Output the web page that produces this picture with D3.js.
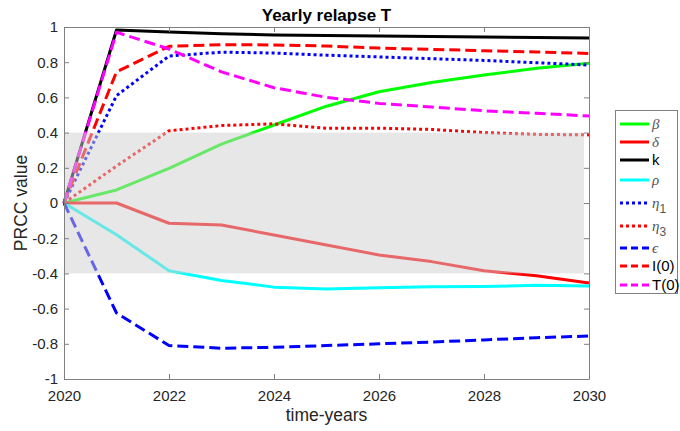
<!DOCTYPE html>
<html><head><meta charset="utf-8">
<script src="https://cdn.jsdelivr.net/npm/d3@7"></script>
<style>body{margin:0;background:#fff;font-family:"Liberation Sans",Arial,sans-serif;}</style>
</head><body><svg id="c" width="680" height="431"></svg>
<script>
const years = [2020,2021,2022,2023,2024,2025,2026,2027,2028,2029,2030];
const beta   = [0, 0.074, 0.197, 0.335, 0.443, 0.55, 0.632, 0.685, 0.727, 0.765, 0.794];
const delta  = [0, 0, -0.115, -0.125, -0.182, -0.239, -0.295, -0.333, -0.385, -0.413, -0.455];
const kVals  = [0, 0.983, 0.972, 0.962, 0.955, 0.952, 0.949, 0.946, 0.943, 0.94, 0.938];
const rho    = [0, -0.18, -0.385, -0.44, -0.478, -0.488, -0.482, -0.476, -0.475, -0.468, -0.472];
const eta1   = [0, 0.61, 0.835, 0.857, 0.852, 0.84, 0.83, 0.82, 0.81, 0.797, 0.784];
const eta3   = [0, 0.21, 0.41, 0.44, 0.45, 0.425, 0.425, 0.418, 0.40, 0.39, 0.387];
const eps    = [0, -0.625, -0.81, -0.825, -0.82, -0.81, -0.8, -0.79, -0.778, -0.765, -0.756];
const I0     = [0, 0.745, 0.89, 0.9, 0.898, 0.892, 0.88, 0.873, 0.865, 0.858, 0.85];
const T0     = [0, 0.97, 0.875, 0.745, 0.655, 0.6, 0.566, 0.545, 0.524, 0.51, 0.494];
const xTicks = [2020,2022,2024,2026,2028,2030];
const yTicks = [-1,-0.8,-0.6,-0.4,-0.2,0,0.2,0.4,0.6,0.8,1];
const band = [-0.4, 0.4];

const series = [
  {name:"β", greek:true, vals:beta, color:"#00ff00", dash:null},
  {name:"δ", greek:true, vals:delta, color:"#ff0000", dash:null},
  {name:"k", greek:false, vals:kVals, color:"#000000", dash:null},
  {name:"ρ", greek:true, vals:rho, color:"#00ffff", dash:null},
  {name:"η", sub:"1", greek:true, vals:eta1, color:"#0000ff", dash:"3,3"},
  {name:"η", sub:"3", greek:true, vals:eta3, color:"#ff0000", dash:"3,3"},
  {name:"ϵ", greek:true, vals:eps, color:"#0000ff", dash:"11,5"},
  {name:"I(0)", greek:false, vals:I0, color:"#ff0000", dash:"11,5"},
  {name:"T(0)", greek:false, vals:T0, color:"#ff00ff", dash:"11,5"}
];

const svg = d3.select("#c");
const L=64, R=589, T=27, B=379;
const x = d3.scaleLinear().domain([2020,2030]).range([L,R]);
const y = d3.scaleLinear().domain([-1,1]).range([B,T]);

const line = d3.line().x((d,i)=>x(years[i])).y(d=>y(d));
const g = svg.append("g");
series.forEach(s=>{
  g.append("path").attr("d", line(s.vals)).attr("fill","none")
   .attr("stroke", s.color).attr("stroke-width",3)
   .attr("stroke-dasharray", s.dash).attr("stroke-linejoin","round");
});
// semi-transparent band on top
svg.append("rect").attr("x",x(2020)).attr("width",x(2030)-x(2020)-5)
  .attr("y",y(band[1])).attr("height",y(band[0])-y(band[1]))
  .attr("fill","#d0d0d0").attr("opacity",0.5);

const axisColor="#808080", txtColor="#262626";
const ax = svg.append("g");
const xb = ax.append("g").attr("transform",`translate(0,${B})`)
  .call(d3.axisBottom(x).tickValues(xTicks).tickFormat(d3.format("d")).tickSizeInner(-5).tickSizeOuter(0).tickPadding(11));
const xt = ax.append("g").attr("transform",`translate(0,${T})`)
  .call(d3.axisTop(x).tickValues(xTicks).tickFormat("").tickSizeInner(-5).tickSizeOuter(0));
const yl = ax.append("g").attr("transform",`translate(${L},0)`)
  .call(d3.axisLeft(y).tickValues(yTicks).tickFormat(d=>String(+d.toFixed(1))).tickSizeInner(-5).tickSizeOuter(0).tickPadding(6));
const yr = ax.append("g").attr("transform",`translate(${R},0)`)
  .call(d3.axisRight(y).tickValues(yTicks).tickFormat("").tickSizeInner(-5).tickSizeOuter(0));
[xb,xt,yl,yr].forEach(a=>{
  a.select(".domain").attr("stroke",axisColor).attr("stroke-width",1);
  a.selectAll(".tick line").attr("stroke",axisColor);
  a.selectAll("text").attr("fill",txtColor).style("font-size","15px").style("font-family","Liberation Sans, Arial, sans-serif");
});

svg.append("text").attr("x",(L+R)/2).attr("y",21).attr("text-anchor","middle")
  .style("font-weight","bold").style("font-size","17px").attr("fill","#000").text("Yearly relapse T");
svg.append("text").attr("x",(L+R)/2).attr("y",421).attr("text-anchor","middle")
  .style("font-size","17.5px").attr("fill",txtColor).text("time-years");
svg.append("text").attr("transform",`translate(27,${(T+B)/2}) rotate(-90)`).attr("text-anchor","middle")
  .style("font-size","17.5px").attr("fill",txtColor).text("PRCC value");

// legend
const lg = svg.append("g");
lg.append("rect").attr("x",615.5).attr("y",110.5).attr("width",62).attr("height",183)
  .attr("fill","#fff").attr("stroke","#808080").attr("stroke-width",1);
const ly = [124,142,160,180,203,226,248,266,285];
series.forEach((s,i)=>{
  lg.append("line").attr("x1",620).attr("x2",649).attr("y1",ly[i]).attr("y2",ly[i])
    .attr("stroke",s.color).attr("stroke-width",3).attr("stroke-dasharray", s.dash ? (s.dash==="3,3"?"3,3":"7,4") : null);
  const t = lg.append("text").attr("x",652).attr("y",ly[i]+5);
  if (s.greek) {
    t.append("tspan").text(s.name).style("font-family","Liberation Serif, serif").style("font-style","italic")
     .style("font-size","15px").attr("fill","#555");
    if (s.sub) t.append("tspan").text(s.sub).attr("dy",5).style("font-size","12px").attr("fill","#555");
  } else {
    t.text(s.name).style("font-size","15px").attr("fill","#000");
  }
});
</script></body></html>
